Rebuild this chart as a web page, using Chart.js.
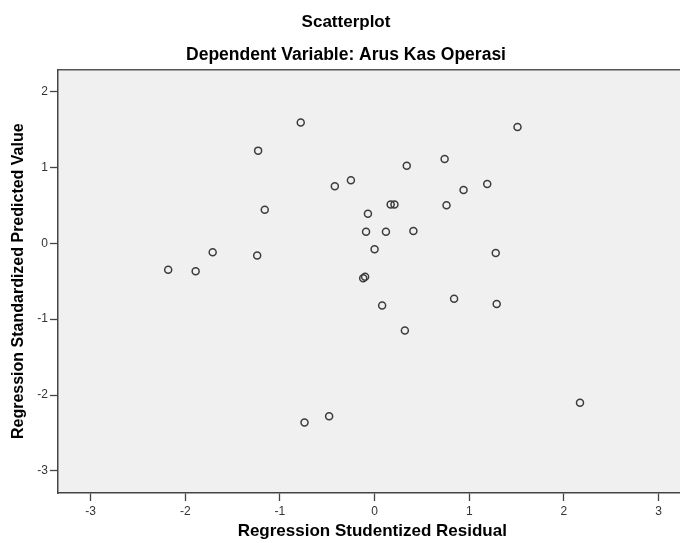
<!DOCTYPE html>
<html>
<head>
<meta charset="utf-8">
<title>Scatterplot</title>
<script src="https://cdn.jsdelivr.net/npm/chart.js@4"></script>
<style>
  html, body { margin: 0; padding: 0; background: #fff; overflow: hidden; }
  canvas { display: block; }
</style>
</head>
<body>
<canvas id="scatterChart" width="692" height="543"></canvas>
<script>
// values
const residuals = [-2.18, -1.89, -1.71, -1.24, -1.23, -1.16, -0.78, -0.42, -0.25, 0.34, 0.74, 1.51, 1.19, 0.94, 0.76, 0.17,
                   0.21, -0.07, -0.09, 0.12, 0.41, 0.00, -0.12, -0.10, 0.08, 0.84, 1.28, 1.29, 0.32, -0.74, -0.48, 2.17];
const predicted = [-0.35, -0.37, -0.12, -0.16, 1.22, 0.44, 1.59, 0.75, 0.83, 1.02, 1.11, 1.53, 0.78, 0.70, 0.50, 0.51,
                   0.51, 0.39, 0.15, 0.15, 0.16, -0.08, -0.46, -0.44, -0.82, -0.73, -0.13, -0.80, -1.15, -2.36, -2.28, -2.10];
const xTicks = [-3, -2, -1, 0, 1, 2, 3];
const yTicks = [-3, -2, -1, 0, 1, 2];

const points = residuals.map((x, i) => ({ x: x, y: predicted[i] }));

// grey plot background like SPSS
const plotBackground = {
    id: 'plotBackground',
    beforeDraw(chart) {
        const { ctx, chartArea } = chart;
        ctx.save();
        ctx.fillStyle = '#f0f0f0';
        ctx.fillRect(chartArea.left, chartArea.top, chartArea.right - chartArea.left, chartArea.bottom - chartArea.top);
        ctx.restore();
    }
};

const family = 'Liberation Sans, Arial, sans-serif';
const tickFont = { family: family, size: 12 };

new Chart(document.getElementById('scatterChart'), {
    type: 'scatter',
    data: {
        datasets: [{
            label: 'Residual',
            data: points,
            pointStyle: 'circle',
            pointRadius: 3.5,
            pointBorderWidth: 1.5,
            pointBackgroundColor: 'rgba(0,0,0,0)',
            pointBorderColor: '#3c3c3c'
        }]
    },
    options: {
        responsive: false,
        animation: false,
        layout: { padding: { left: 0, right: 0, top: 0, bottom: 0 } },
        plugins: {
            legend: { display: false },
            tooltip: { enabled: false },
            title: {
                display: true,
                text: 'Scatterplot',
                color: '#000',
                font: { family: family, size: 17, weight: 'bold' },
                padding: { top: 12, bottom: 10 }
            },
            subtitle: {
                display: true,
                text: 'Dependent Variable: Arus Kas Operasi',
                color: '#000',
                font: { family: family, size: 17.5, weight: 'bold' },
                padding: { top: 2, bottom: 4 }
            }
        },
        scales: {
            x: {
                type: 'linear',
                position: 'bottom',
                min: -3.344,
                max: 3.295,
                afterBuildTicks: (scale) => { scale.ticks = xTicks.map(v => ({ value: v })); },
                afterFit: (scale) => { scale.height = 50; },
                ticks: { color: '#333', font: tickFont, padding: 3 },
                grid: { drawOnChartArea: false, tickLength: 8, color: '#444', tickWidth: 1.3 },
                border: { display: true, color: '#444', width: 1.5 },
                title: {
                    display: true,
                    text: 'Regression Studentized Residual',
                    color: '#000',
                    font: { family: family, size: 17, weight: 'bold' },
                    padding: { top: 0, bottom: 1 }
                }
            },
            xTop: {
                type: 'linear',
                position: 'top',
                min: -3.344,
                max: 3.295,
                afterFit: (scale) => { scale.height = 0; },
                ticks: { display: false },
                grid: { display: false },
                border: { display: true, color: '#555', width: 1.5 }
            },
            y: {
                type: 'linear',
                min: -3.29,
                max: 2.29,
                afterBuildTicks: (scale) => { scale.ticks = yTicks.map(v => ({ value: v })); },
                afterFit: (scale) => { scale.width = 58; },
                ticks: { color: '#333', font: tickFont, padding: 2 },
                grid: { drawOnChartArea: false, tickLength: 8, color: '#444', tickWidth: 1.3 },
                border: { display: true, color: '#444', width: 1.5 },
                title: {
                    display: true,
                    text: 'Regression Standardized Predicted Value',
                    color: '#000',
                    font: { family: family, size: 16, weight: 'bold' },
                    padding: { top: 9, bottom: 0 }
                }
            }
        }
    },
    plugins: [plotBackground]
});
</script>
</body>
</html>
